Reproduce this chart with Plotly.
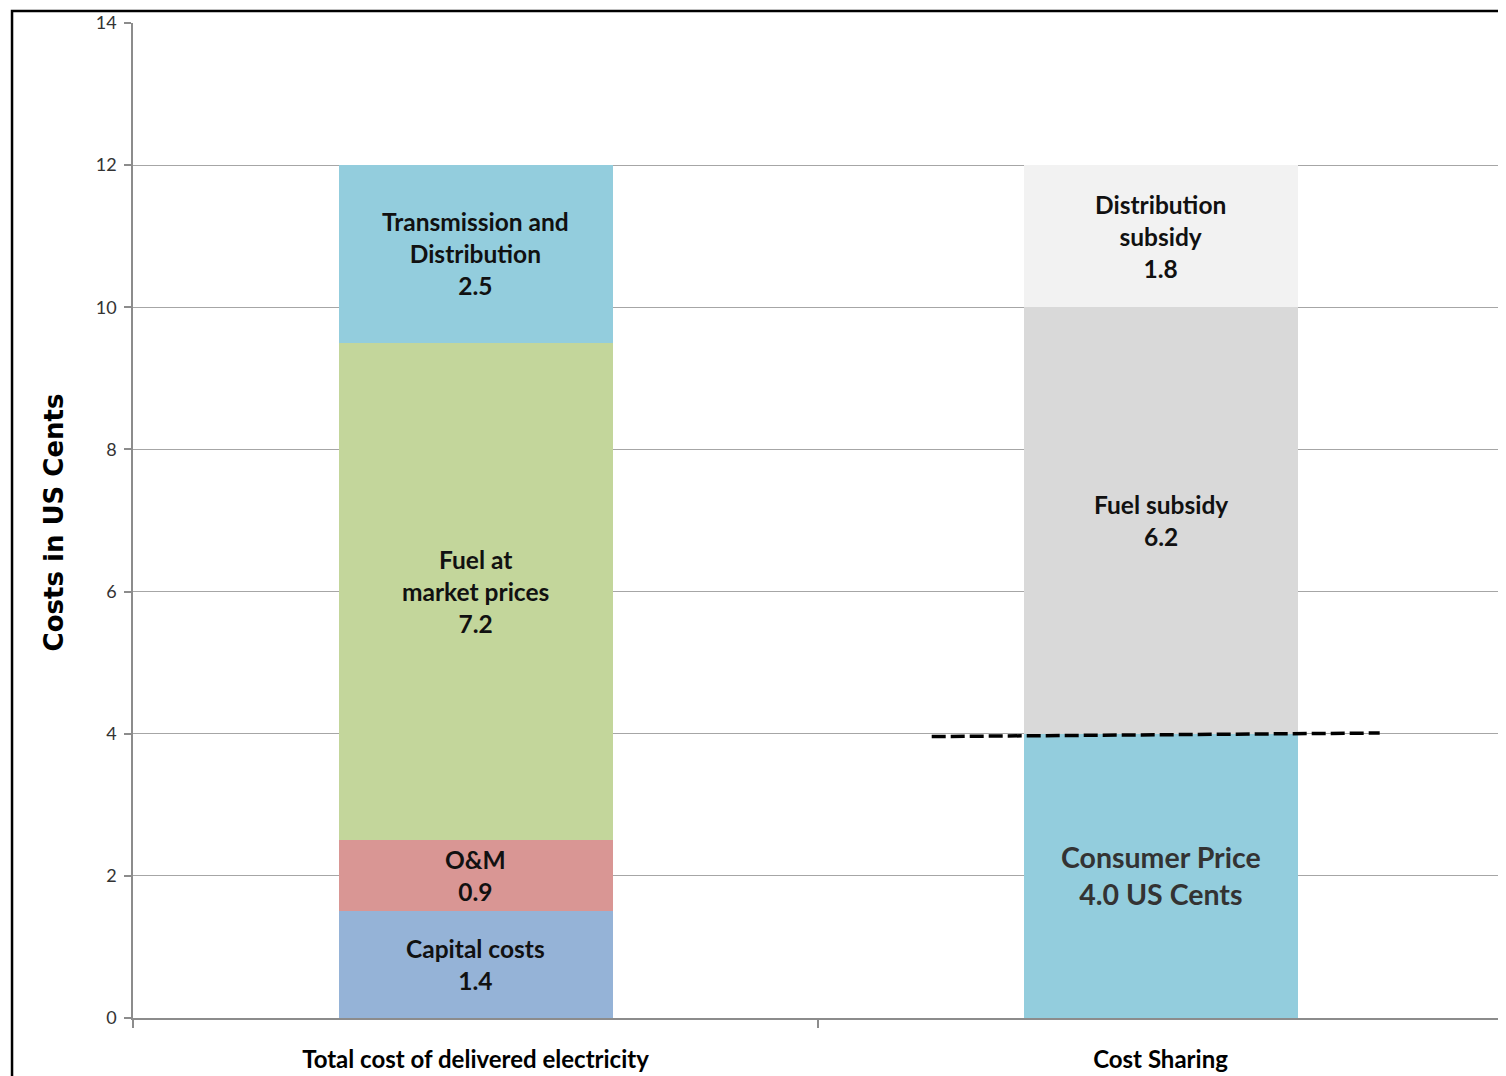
import plotly.graph_objects as go

categories = ["Total cost of delivered electricity", "Cost Sharing"]

# left stack (Total cost)
left_names = ["Capital costs", "O&M", "Fuel at market prices", "Transmission and Distribution"]
left_values = [1.5, 1.0, 7.0, 2.5]
left_labels = ["Capital costs<br>1.4", "O&M<br>0.9", "Fuel at<br>market prices<br>7.2",
               "Transmission and<br>Distribution<br>2.5"]
left_colors = ["#95b3d7", "#d99694", "#c3d69b", "#93cddd"]

# right stack (Cost Sharing)
right_names = ["Consumer Price", "Fuel subsidy", "Distribution subsidy"]
right_values = [4.0, 6.0, 2.0]
right_labels = ["Consumer Price<br>4.0 US Cents", "Fuel subsidy<br>6.2", "Distribution<br>subsidy<br>1.8"]
right_colors = ["#93cddd", "#d9d9d9", "#f2f2f2"]

# consumer price reference line (category index, value)
price_line_x = [0.666, 1.32]
price_line_y = [3.96, 4.01]

y_ticks = [0, 2, 4, 6, 8, 10, 12, 14]

fig = go.Figure()
annotations = []

def add_stack(cat, names, values, labels, colors, big_first=False):
    base = 0.0
    for i, (n, v, lab, c) in enumerate(zip(names, values, labels, colors)):
        fig.add_trace(go.Bar(x=[cat], y=[v], name=n, marker=dict(color=c, line=dict(width=0)),
                             width=0.4, showlegend=False, hoverinfo="name+y"))
        big = big_first and i == 0
        annotations.append(dict(x=cat, y=base + v / 2, xref="x", yref="y", text=lab, showarrow=False,
                                align="center",
                                font=dict(family="Lato", size=28.5 if big else 24.5, weight="bold",
                                          color="#333333" if big else "#111111")))
        base += v

add_stack(categories[0], left_names, left_values, left_labels, left_colors)
add_stack(categories[1], right_names, right_values, right_labels, right_colors, big_first=True)

# y axis title
annotations.append(dict(x=-0.057, y=0.498, xref="paper", yref="paper", text="Costs in US Cents",
                        textangle=-90, showarrow=False, xanchor="center", yanchor="middle",
                        font=dict(family="DejaVu Sans", size=26, weight="bold", color="#000000")))

shapes = [
    dict(type="line", xref="x", yref="y", x0=price_line_x[0], x1=price_line_x[1],
         y0=price_line_y[0], y1=price_line_y[1],
         line=dict(color="#000000", width=3.5, dash="14px,5px")),
    dict(type="rect", xref="paper", yref="paper", x0=-0.0883, x1=1.02, y0=-0.08, y1=1.012,
         line=dict(color="#000000", width=2.5), fillcolor="rgba(0,0,0,0)", layer="above"),
]

fig.update_layout(
    width=1498, height=1068,
    margin=dict(l=125, r=3, t=12, b=56),
    barmode="stack",
    bargap=0.6,
    paper_bgcolor="white", plot_bgcolor="white",
    annotations=annotations,
    shapes=shapes,
    showlegend=False,
    font=dict(family="Lato", color="#222222"),
)
fig.update_xaxes(
    type="category", categoryorder="array", categoryarray=categories,
    range=[-0.5, 1.5],
    showline=True, linecolor="#8c8c8c", linewidth=1.5,
    ticks="outside", tickson="boundaries", ticklen=8, tickcolor="#8c8c8c", tickwidth=1.5,
    tickfont=dict(family="Lato", size=24, weight="bold", color="#000000"),
    ticklabelstandoff=19,
    showgrid=False,
)
fig.update_yaxes(
    range=[0, 14], tickvals=y_ticks,
    showline=True, linecolor="#8c8c8c", linewidth=1.5,
    ticks="outside", ticklen=7, tickcolor="#8c8c8c", tickwidth=1.5,
    tickfont=dict(family="Lato", size=18, color="#333333"),
    ticklabelstandoff=4,
    showgrid=True, gridcolor="#a6a6a6", gridwidth=1.3,
    zeroline=False,
)

fig.write_html("out.html")
